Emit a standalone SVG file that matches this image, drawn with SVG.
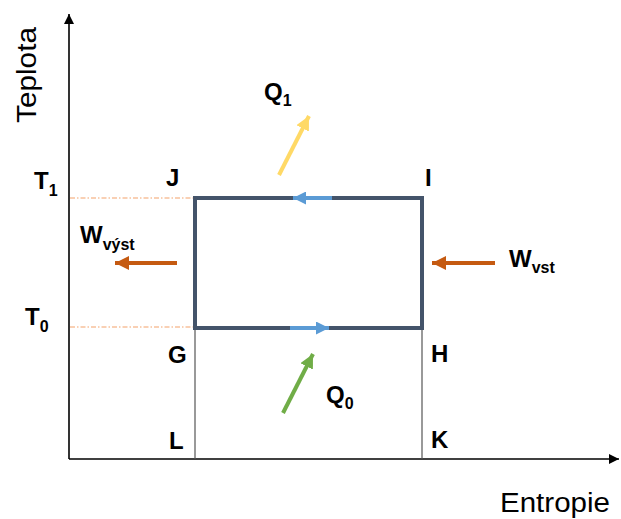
<svg xmlns="http://www.w3.org/2000/svg" width="621" height="519" viewBox="0 0 621 519">
<style>
.lbl{font-family:"Liberation Sans",Arial,sans-serif;font-weight:bold;font-size:24px;fill:#000}
.sub{font-size:16px}
.ax{font-family:"Liberation Sans",Arial,sans-serif;font-size:27px;fill:#000}
.axis{stroke:#000;stroke-width:1.6;fill:none}
.thin{stroke:#555;stroke-width:1.2;fill:none}
.guide{stroke:#F4A26B;stroke-width:1.2;stroke-dasharray:5 2 1.5 2;fill:none}
.cyc{stroke:#44546A;stroke-width:4;fill:none;stroke-linecap:square}
</style>
<defs>
<marker id="ahK" viewBox="0 0 10 10" refX="10" refY="5" markerWidth="10" markerHeight="10" markerUnits="userSpaceOnUse" orient="auto"><path d="M0,0 L10,5 L0,10 Z" fill="#000"/></marker>
<marker id="ahB" viewBox="0 0 10 10" refX="10" refY="5" markerWidth="13" markerHeight="13" markerUnits="userSpaceOnUse" orient="auto"><path d="M0,0 L10,5 L0,10 Z" fill="#5B9BD5"/></marker>
<marker id="ahO" viewBox="0 0 10 10" refX="10" refY="5" markerWidth="14" markerHeight="14" markerUnits="userSpaceOnUse" orient="auto"><path d="M0,0 L10,5 L0,10 Z" fill="#C55A11"/></marker>
<marker id="ahY" viewBox="0 0 10 10" refX="10" refY="5" markerWidth="14" markerHeight="14" markerUnits="userSpaceOnUse" orient="auto"><path d="M0,0 L10,5 L0,10 Z" fill="#FFD966"/></marker>
<marker id="ahG" viewBox="0 0 10 10" refX="10" refY="5" markerWidth="14" markerHeight="14" markerUnits="userSpaceOnUse" orient="auto"><path d="M0,0 L10,5 L0,10 Z" fill="#70AD47"/></marker>
</defs>
<rect width="621" height="519" fill="#fff"/>

<g id="axes">
<line class="axis" x1="69" y1="459" x2="69" y2="14" marker-end="url(#ahK)"/>
<line class="axis" x1="69" y1="459" x2="619" y2="459" marker-end="url(#ahK)"/>
<text class="ax" transform="translate(36,75) rotate(-90)" text-anchor="middle" textLength="96" lengthAdjust="spacingAndGlyphs">Teplota</text>
<text class="ax" x="500" y="512" textLength="110" lengthAdjust="spacingAndGlyphs">Entropie</text>
</g>

<g id="connectors">
<line class="guide" x1="70" y1="198" x2="195" y2="198"/>
<line class="guide" x1="70" y1="327" x2="195" y2="327"/>
<line class="thin" x1="195" y1="328" x2="195" y2="459"/>
<line class="thin" x1="422" y1="328" x2="422" y2="459"/>
</g>

<g id="cycle">
<rect class="cyc" x="195" y="198" width="227" height="130"/>
<line x1="332" y1="198" x2="293" y2="198" stroke="#5B9BD5" stroke-width="4" marker-end="url(#ahB)"/>
<line x1="290" y1="328" x2="329" y2="328" stroke="#5B9BD5" stroke-width="4" marker-end="url(#ahB)"/>
</g>

<g id="flows">
<line x1="279" y1="175" x2="309" y2="116" stroke="#FFD966" stroke-width="4" marker-end="url(#ahY)"/>
<line x1="283" y1="413" x2="313" y2="354" stroke="#70AD47" stroke-width="4" marker-end="url(#ahG)"/>
<line x1="177" y1="263" x2="115" y2="263" stroke="#C55A11" stroke-width="4" marker-end="url(#ahO)"/>
<line x1="495" y1="263" x2="432" y2="263" stroke="#C55A11" stroke-width="4" marker-end="url(#ahO)"/>
</g>

<g id="labels">
<g id="T1"><text class="lbl" x="34" y="189" font-size="26">T<tspan class="sub" dy="7">1</tspan></text></g>
<g id="T0"><text class="lbl" x="25" y="325" font-size="26">T<tspan class="sub" dy="7">0</tspan></text></g>
<g id="J"><text class="lbl" x="166" y="186">J</text></g>
<g id="I"><text class="lbl" x="425" y="186">I</text></g>
<g id="G"><text class="lbl" x="168" y="363">G</text></g>
<g id="H"><text class="lbl" x="431" y="362">H</text></g>
<g id="L"><text class="lbl" x="169" y="449">L</text></g>
<g id="K"><text class="lbl" x="431" y="448">K</text></g>
<g id="Q1"><text class="lbl" x="264" y="100" font-size="25">Q<tspan class="sub" dy="6">1</tspan></text></g>
<g id="Q0"><text class="lbl" x="326" y="403" font-size="25">Q<tspan class="sub" dy="6">0</tspan></text></g>
<g id="Wvyst"><text class="lbl" x="80" y="243" font-size="25">W<tspan class="sub" dy="7">výst</tspan></text></g>
<g id="Wvst"><text class="lbl" x="509" y="267" font-size="25">W<tspan class="sub" dy="6">vst</tspan></text></g>
</g>
</svg>
